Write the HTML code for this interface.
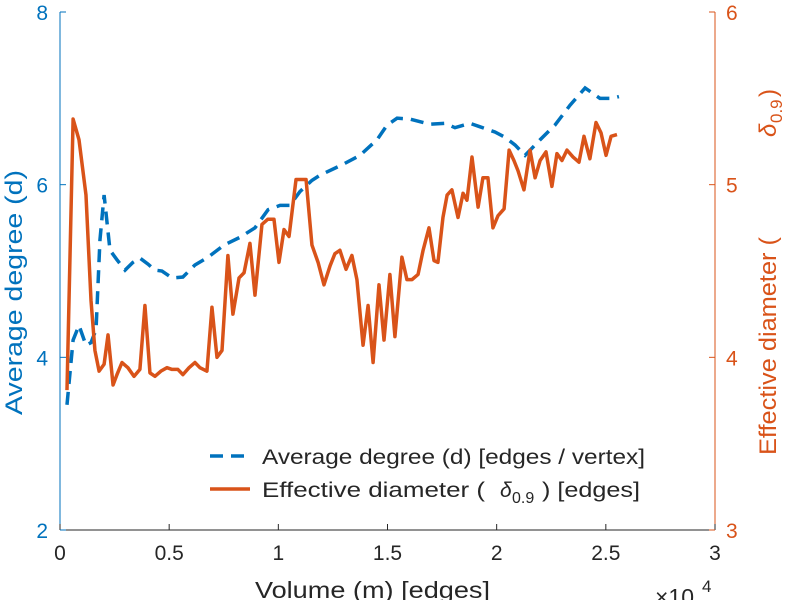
<!DOCTYPE html>
<html><head><meta charset="utf-8"><style>
body{margin:0;background:#fff}
svg{display:block;font-family:"Liberation Sans",sans-serif}
text{white-space:pre}
</style></head><body>
<svg id="chart" width="795" height="600" viewBox="0 0 795 600" xmlns="http://www.w3.org/2000/svg"></svg>
<script>
// x in units of 1e4 edges
const degreeX=[0.032,0.060,0.087,0.119,0.142,0.165,0.183,0.202,0.229,0.261,0.298,0.334,0.366,0.403,0.435,0.467,0.513,0.563,0.618,0.678,0.751,0.824,0.893,0.953,1.008,1.053,1.099,1.154,1.191,1.292,1.374,1.452,1.498,1.544,1.603,1.649,1.695,1.764,1.809,1.878,1.924,1.992,2.038,2.084,2.130,2.199,2.267,2.336,2.405,2.473,2.528,2.560];
const degreeY=[3.45,4.20,4.37,4.14,4.17,4.32,5.36,5.88,5.24,5.13,5.01,5.10,5.15,5.08,5.01,5.00,4.92,4.93,5.07,5.16,5.30,5.39,5.50,5.71,5.76,5.76,5.92,6.05,6.11,6.23,6.34,6.52,6.69,6.77,6.76,6.73,6.70,6.71,6.66,6.71,6.67,6.61,6.55,6.46,6.34,6.52,6.69,6.92,7.12,7.00,7.00,7.02];
const diamX=[0.032,0.060,0.087,0.119,0.142,0.160,0.179,0.202,0.220,0.243,0.261,0.284,0.311,0.339,0.366,0.389,0.412,0.435,0.462,0.490,0.513,0.540,0.563,0.591,0.618,0.641,0.673,0.696,0.719,0.742,0.769,0.792,0.820,0.843,0.870,0.893,0.925,0.952,0.980,1.003,1.026,1.049,1.081,1.108,1.127,1.154,1.182,1.209,1.237,1.259,1.282,1.310,1.337,1.360,1.388,1.411,1.434,1.461,1.484,1.511,1.534,1.566,1.589,1.612,1.640,1.663,1.690,1.713,1.731,1.754,1.773,1.795,1.823,1.846,1.864,1.887,1.915,1.937,1.960,1.983,2.006,2.034,2.057,2.079,2.098,2.125,2.153,2.176,2.199,2.226,2.253,2.276,2.299,2.322,2.350,2.377,2.400,2.427,2.455,2.478,2.501,2.524,2.551];
const diamY=[3.81,5.38,5.26,4.94,4.33,4.04,3.92,3.96,4.13,3.84,3.90,3.97,3.94,3.89,3.93,4.30,3.91,3.89,3.92,3.94,3.93,3.93,3.90,3.94,3.97,3.94,3.92,4.29,4.00,4.04,4.59,4.25,4.46,4.49,4.66,4.36,4.77,4.80,4.80,4.55,4.74,4.70,5.03,5.03,5.03,4.65,4.55,4.42,4.53,4.60,4.62,4.51,4.59,4.45,4.07,4.30,3.97,4.42,4.10,4.48,4.12,4.58,4.45,4.45,4.48,4.62,4.75,4.56,4.55,4.81,4.94,4.97,4.81,4.95,4.91,5.16,4.87,5.04,5.04,4.75,4.82,4.86,5.20,5.14,5.08,4.97,5.20,5.04,5.14,5.19,4.99,5.18,5.14,5.20,5.16,5.13,5.28,5.15,5.36,5.30,5.17,5.28,5.29];
const xTicks=[0,0.5,1,1.5,2,2.5,3];
const xTickLabels=["0","0.5","1","1.5","2","2.5","3"];
const leftTicks=[2,4,6,8];
const rightTicks=[3,4,5,6];

const L=60,R=715,T=12,B=530;
const BLUE="#0072BD",ORANGE="#D95319";
const sx=v=>L+(v-0)/(3-0)*(R-L);
const syL=v=>B-(v-2)/(8-2)*(B-T);
const syR=v=>B-(v-3)/(6-3)*(B-T);
const svg=document.getElementById('chart');
const NS="http://www.w3.org/2000/svg";
function mk(tag,attrs,parent){const e=document.createElementNS(NS,tag);for(const k in attrs)e.setAttribute(k,attrs[k]);(parent||svg).appendChild(e);return e;}

let a;
a=mk('line',{x1:L,y1:B,x2:R,y2:B,stroke:"#262626","stroke-width":1});


a=mk('line',{x1:L,y1:T,x2:L,y2:B,stroke:BLUE,"stroke-width":1});


a=mk('line',{x1:R,y1:T,x2:R,y2:B,stroke:ORANGE,"stroke-width":1});



xTicks.forEach((t,i)=>{
  const x=sx(t);
  const tk=mk('line',{x1:x,y1:B,x2:x,y2:B-6,stroke:"#262626"});
  
  
  const tx=mk('text',{x:x,y:B+30,"text-anchor":"middle","font-size":21,fill:"#262626"});
  tx.textContent=xTickLabels[i];
  
  
});
leftTicks.forEach(t=>{
  const y=syL(t);
  const tk=mk('line',{x1:L,y1:y,x2:L+6,y2:y,stroke:BLUE});
  
  
  const tx=mk('text',{x:L-12,y:y+8,"text-anchor":"end","font-size":21,fill:BLUE});
  tx.textContent=String(t);
  
  
});
rightTicks.forEach(t=>{
  const y=syR(t);
  const tk=mk('line',{x1:R,y1:y,x2:R-6,y2:y,stroke:ORANGE});
  
  
  const tx=mk('text',{x:R+11,y:y+8,"text-anchor":"start","font-size":21,fill:ORANGE});
  tx.textContent=String(t);
  
  
});

let p=mk('polyline',{points:degreeX.map((x,i)=>sx(x)+","+syL(degreeY[i])).join(" "),fill:"none",stroke:BLUE,"stroke-width":3.5,"stroke-dasharray":"13,8"});


p=mk('polyline',{points:diamX.map((x,i)=>sx(x)+","+syR(diamY[i])).join(" "),fill:"none",stroke:ORANGE,"stroke-width":3.5,"stroke-linejoin":"round"});



let t=mk('text',{x:255,y:598,"font-size":23,fill:"#262626",textLength:235,lengthAdjust:"spacingAndGlyphs"});
t.textContent="Volume (m) [edges]";


t=mk('text',{x:655,y:605,"font-size":23,fill:"#262626"});
t.textContent="×10";


t=mk('text',{x:702,y:592,"font-size":17,fill:"#262626"});
t.textContent="4";


t=mk('text',{x:0,y:0,"font-size":24,fill:BLUE,transform:"translate(22,415) rotate(-90)",textLength:245,lengthAdjust:"spacingAndGlyphs"});
t.textContent="Average degree (d)";


const rg=mk('g',{transform:"translate(776,455) rotate(-90)"});


t=mk('text',{x:0,y:0,"font-size":24,fill:ORANGE,textLength:218,lengthAdjust:"spacingAndGlyphs"},rg);
t.textContent="Effective diameter (";


t=mk('text',{x:318,y:0,"font-size":24,"font-style":"italic",fill:ORANGE},rg);
t.textContent="δ";


t=mk('text',{x:332,y:6,"font-size":17,fill:ORANGE},rg);
t.textContent="0.9";


t=mk('text',{x:358,y:0,"font-size":24,fill:ORANGE},rg);
t.textContent=")";



const lg=mk('g',{});


let ll=mk('line',{x1:210,y1:456,x2:250,y2:456,stroke:BLUE,"stroke-width":3.5,"stroke-dasharray":"13,8"},lg);


t=mk('text',{x:262,y:464,"font-size":21,fill:"#262626",textLength:383,lengthAdjust:"spacingAndGlyphs"},lg);
t.textContent="Average degree (d) [edges / vertex]";


ll=mk('line',{x1:210,y1:489,x2:250,y2:489,stroke:ORANGE,"stroke-width":3.5},lg);


t=mk('text',{x:262,y:497,"font-size":21,fill:"#262626",textLength:223,lengthAdjust:"spacingAndGlyphs"},lg);
t.textContent="Effective diameter (";


t=mk('text',{x:500,y:497,"font-size":21,"font-style":"italic",fill:"#262626"},lg);
t.textContent="δ";


t=mk('text',{x:512,y:503,"font-size":16,fill:"#262626"},lg);
t.textContent="0.9";


t=mk('text',{x:542,y:497,"font-size":21,fill:"#262626",textLength:98,lengthAdjust:"spacingAndGlyphs"},lg);
t.textContent=") [edges]";


</script>
</body></html>
